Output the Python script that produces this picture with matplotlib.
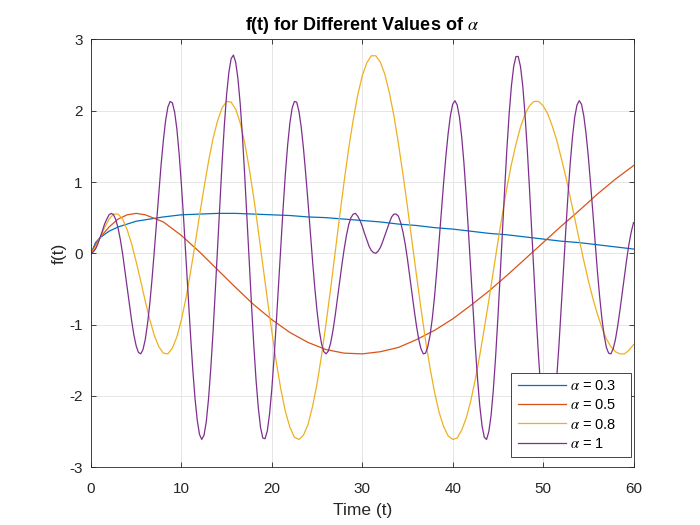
import numpy as np
import matplotlib
matplotlib.use("Agg")
import matplotlib.pyplot as plt

# values
# alpha = 0.3 and 0.5 (slow curves, coarser steps after t = 6)
t_a03 = [0, 0.5, 1, 2, 3, 4, 5, 6, 8, 10, 12, 14, 16, 18, 20, 22, 24, 26, 28,
         30, 32, 34, 36, 38, 40, 42, 44, 46, 48, 50, 52, 54, 56, 58, 60]
f_a03 = [0.00, 0.15, 0.22, 0.31, 0.37, 0.41, 0.45, 0.47, 0.51, 0.54, 0.55,
         0.56, 0.56, 0.55, 0.54, 0.53, 0.51, 0.50, 0.48, 0.46, 0.44, 0.41,
         0.39, 0.36, 0.34, 0.31, 0.28, 0.26, 0.23, 0.20, 0.17, 0.15, 0.12,
         0.09, 0.06]

t_a05 = [0, 0.5, 1, 2, 3, 4, 5, 6, 8, 10, 12, 14, 16, 18, 20, 22, 24, 26, 28,
         30, 32, 34, 36, 38, 40, 42, 44, 46, 48, 50, 52, 54, 56, 58, 60]
f_a05 = [0.00, 0.12, 0.22, 0.37, 0.48, 0.54, 0.56, 0.54, 0.44, 0.25, 0.02,
         -0.23, -0.48, -0.72, -0.93, -1.11, -1.25, -1.35, -1.40, -1.41, -1.38,
         -1.32, -1.21, -1.08, -0.92, -0.73, -0.53, -0.31, -0.08, 0.15, 0.38,
         0.60, 0.83, 1.04, 1.23]

# alpha = 0.8, t = 0, 0.5, ..., 60
t_a08 = np.arange(0, 60.001, 0.5)
f_a08 = [0.00, 0.08, 0.22, 0.36, 0.48, 0.55, 0.55, 0.48, 0.33, 0.13,
         -0.12, -0.39, -0.67, -0.93, -1.15, -1.31, -1.40, -1.41, -1.33, -1.17,
         -0.93, -0.63, -0.27, 0.12, 0.53, 0.92, 1.29, 1.61, 1.86, 2.04,
         2.13, 2.12, 2.02, 1.83, 1.55, 1.19, 0.78, 0.32, -0.16, -0.64,
         -1.10, -1.53, -1.91, -2.22, -2.44, -2.58, -2.61, -2.55, -2.40, -2.15,
         -1.83, -1.43, -0.98, -0.50, 0.01, 0.52, 1.01, 1.47, 1.87, 2.22,
         2.49, 2.67, 2.77, 2.77, 2.68, 2.51, 2.25, 1.93, 1.54, 1.11,
         0.65, 0.17, -0.31, -0.78, -1.22, -1.61, -1.95, -2.23, -2.43, -2.56,
         -2.61, -2.59, -2.48, -2.31, -2.07, -1.77, -1.43, -1.05, -0.66, -0.25,
         0.16, 0.55, 0.92, 1.25, 1.53, 1.77, 1.95, 2.07, 2.13, 2.13,
         2.07, 1.96, 1.79, 1.59, 1.34, 1.08, 0.79, 0.49, 0.19, -0.10,
         -0.38, -0.63, -0.85, -1.04, -1.20, -1.31, -1.38, -1.41, -1.41, -1.36,
         -1.28]

# alpha = 1, t = 0, 0.25, ..., 60
t_a1 = np.arange(0, 60.001, 0.25)
f_a1 = [0.00, 0.02, 0.06, 0.13, 0.22, 0.31, 0.41, 0.48, 0.54, 0.56,
        0.54, 0.47, 0.35, 0.19, -0.01, -0.24, -0.48, -0.72, -0.95, -1.15,
        -1.30, -1.39, -1.41, -1.35, -1.21, -0.99, -0.71, -0.36, 0.03, 0.44,
        0.85, 1.24, 1.58, 1.86, 2.05, 2.13, 2.11, 1.98, 1.74, 1.39,
        0.96, 0.47, -0.06, -0.61, -1.13, -1.62, -2.03, -2.34, -2.54, -2.61,
        -2.55, -2.36, -2.04, -1.61, -1.10, -0.52, 0.09, 0.70, 1.28, 1.80,
        2.23, 2.54, 2.73, 2.78, 2.68, 2.45, 2.10, 1.64, 1.09, 0.50,
        -0.11, -0.72, -1.28, -1.77, -2.16, -2.44, -2.59, -2.60, -2.49, -2.25,
        -1.90, -1.46, -0.96, -0.42, 0.12, 0.64, 1.12, 1.52, 1.83, 2.04,
        2.13, 2.12, 1.99, 1.77, 1.47, 1.11, 0.72, 0.30, -0.10, -0.48,
        -0.81, -1.08, -1.27, -1.38, -1.41, -1.37, -1.26, -1.09, -0.88, -0.64,
        -0.40, -0.16, 0.06, 0.25, 0.40, 0.50, 0.55, 0.56, 0.52, 0.46,
        0.38, 0.28, 0.19, 0.10, 0.04, 0.01, 0.00, 0.03, 0.08, 0.16,
        0.25, 0.34, 0.43, 0.51, 0.55, 0.55, 0.52, 0.43, 0.30, 0.13,
        -0.08, -0.32, -0.56, -0.80, -1.02, -1.21, -1.34, -1.41, -1.40, -1.31,
        -1.15, -0.91, -0.60, -0.23, 0.17, 0.58, 0.99, 1.36, 1.68, 1.93,
        2.09, 2.14, 2.08, 1.91, 1.63, 1.26, 0.80, 0.30, -0.24, -0.79,
        -1.30, -1.76, -2.14, -2.42, -2.58, -2.61, -2.50, -2.27, -1.91, -1.45,
        -0.91, -0.32, 0.30, 0.90, 1.47, 1.96, 2.35, 2.62, 2.76, 2.76,
        2.62, 2.35, 1.95, 1.46, 0.90, 0.29, -0.32, -0.91, -1.45, -1.91,
        -2.27, -2.50, -2.61, -2.58, -2.42, -2.14, -1.76, -1.30, -0.78, -0.24,
        0.30, 0.81, 1.26, 1.63, 1.91, 2.08, 2.14, 2.09, 1.93, 1.68,
        1.36, 0.98, 0.58, 0.16, -0.24, -0.60, -0.91, -1.15, -1.32, -1.40,
        -1.41, -1.34, -1.21, -1.02, -0.80, -0.56, -0.31, -0.08, 0.13, 0.30,
        0.43]

plt.rcParams['font.family'] = ['Liberation Sans', 'DejaVu Sans']
plt.rcParams['mathtext.fontset'] = 'stix'
plt.rcParams['axes.unicode_minus'] = False

fig = plt.figure(figsize=(7, 5.25), dpi=100)
ax = fig.add_axes([0.13, 0.11, 0.775, 0.815])
ax.plot(t_a03, f_a03, color='#0072BD', lw=0.9, label=r'$\alpha$ = 0.3')
ax.plot(t_a05, f_a05, color='#D95319', lw=0.9, label=r'$\alpha$ = 0.5')
ax.plot(t_a08, f_a08, color='#EDB120', lw=0.9, label=r'$\alpha$ = 0.8')
ax.plot(t_a1, f_a1, color='#7E2F8E', lw=0.9, label=r'$\alpha$ = 1')

ax.set_xlim(0, 60)
ax.set_ylim(-3, 3)
ax.set_xticks(range(0, 61, 10))
ax.set_yticks(range(-3, 4))
ax.grid(True, color='#e2e2e2', lw=0.6)
ax.set_axisbelow(True)
ax.tick_params(direction='in', length=3.6, width=0.6, top=True, right=True,
               labelsize=11, colors='#262626')
ax.tick_params(axis='x', pad=10.5)
ax.tick_params(axis='y', pad=6)
for s in ax.spines.values():
    s.set_linewidth(0.6)
    s.set_color('#262626')

ax.set_xlabel('Time (t)', fontsize=12.5, color='#262626', labelpad=5)
ax.set_ylabel('f(t)', fontsize=12.5, color='#262626', labelpad=2)
ax.set_title(r'f(t) for Different Values of $\alpha$', fontsize=13,
             fontweight='bold', pad=7)

leg = ax.legend(loc='lower right', bbox_to_anchor=(0.7744, 0.0234, 0.2214, 0.1),
                mode='expand', borderaxespad=0, fontsize=10.5, fancybox=False,
                framealpha=1, edgecolor='#262626', handlelength=3.3,
                handletextpad=0.3, labelspacing=0.35, borderpad=0.45)
leg.get_frame().set_linewidth(0.6)

fig.savefig("out.png")
